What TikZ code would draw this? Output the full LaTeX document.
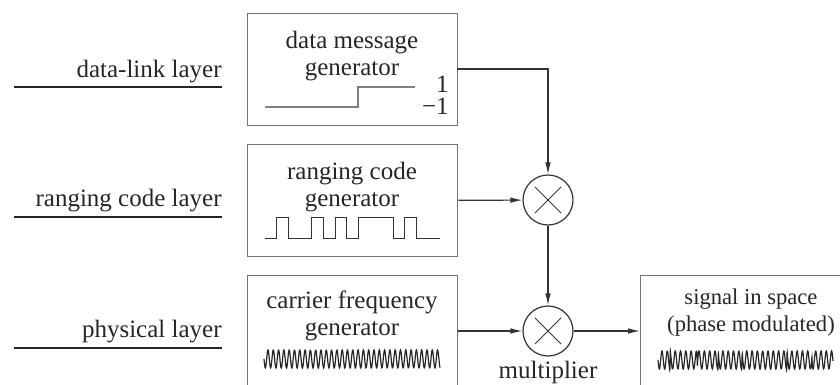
\documentclass[tikz,border=0pt]{standalone}
\usepackage{fontspec}
\setmainfont{Liberation Serif}
\usetikzlibrary{arrows.meta}

\tikzset{
  blk/.style={draw=black!55, line width=0.65pt, rectangle, inner sep=0pt, anchor=north west},
  txt/.style={align=center, inner sep=0pt, anchor=north, text=black!85},
  lbl/.style={inner sep=0pt, anchor=base east, text=black!85},
  mult/.style={draw=black!80, line width=0.6pt, circle, minimum size=25pt, inner sep=0pt,
    path picture={\draw[black!80, line width=0.5pt]
      ([shift={(-13,-13)}]path picture bounding box.center) -- ([shift={(13,13)}]path picture bounding box.center)
      ([shift={(-13,13)}]path picture bounding box.center) -- ([shift={(13,-13)}]path picture bounding box.center);}},
  arr/.style={draw=black!80, line width=0.6pt, -{Latex[length=6pt,width=2.8pt]}},
  sep/.style={draw=black!85, line width=0.6pt},
  wave/.style={draw=black!85, line width=0.6pt}
}

\begin{document}
\begin{tikzpicture}[x=0.5pt, y=-0.5pt, font=\fontsize{12.5}{13.5}\selectfont]
\clip (0,0) rectangle (840,385);

% layer names
\node[lbl] (dll) at (222,78) {data-link layer};
\node[lbl] (rcl) at (222,206) {ranging code layer};
\node[lbl] (phl) at (222,337) {physical layer};
\draw[sep] (14,87) -- (222,87);
\draw[sep] (14,217) -- (222,217);
\draw[sep] (14,348) -- (222,348);

% generators
\node[blk, minimum width=105pt, minimum height=56pt] (msgbox) at (247,13) {};
\node[txt] (msgtxt) at (352,31) {data message\\generator};
\node[blk, minimum width=105pt, minimum height=56pt] (rngbox) at (247,144) {};
\node[txt] (rngtxt) at (352,162) {ranging code\\generator};
\node[blk, minimum width=105pt, minimum height=60pt] (carbox) at (247,275) {};
\node[txt] (cartxt) at (352,290) {carrier frequency\\generator};
\node[blk, minimum width=105pt, minimum height=60pt] (sigbox) at (640,275) {};
\node[txt, font=\fontsize{11.3}{13.5}\selectfont] (sigtxt) at (751,288) {signal in space\\(phase modulated)};

% waveforms
\draw[black!50, line width=0.7pt] (265,107) -- (358,107) -- (358,87) -- (415,87);
\node[lbl] (one) at (449,93) {1};
\node[lbl] (mone) at (449,115) {−1};
\draw[black!80, line width=0.5pt] (265,238) -- (276.7,238) -- (276.7,217) -- (288.3,217) -- (288.3,238)
  -- (311.7,238) -- (311.7,217) -- (323.3,217) -- (323.3,238) -- (335,238) -- (335,217)
  -- (346.7,217) -- (346.7,238) -- (358.3,238) -- (358.3,217) -- (393.3,217) -- (393.3,238)
  -- (404,238) -- (404,217) -- (416.7,217) -- (416.7,238) -- (440,238);
\draw[wave] plot[domain=264:440, samples=500, smooth]
  (\x, {359+9*sin((\x-264)/5.3*360)});
\draw[wave] plot[domain=658:833, samples=500, smooth]
  (\x, {360+9*sin((\x-658)/5.3*360 + 180*((\x>670)+(\x>697)+(\x>718)+(\x>742)+(\x>787)+(\x>812)))});

% multipliers
\node[mult] (mul1) at (548,200) {};
\node[mult] (mul2) at (548,331) {};
\node[lbl, anchor=base] (multxt) at (548,378) {multiplier};

% connections
\coordinate (msgout) at (457,69);
\draw[arr] (msgout) -| (mul1);
\draw[arr] (rngbox) -- (mul1);
\draw[arr] (mul1) -- (mul2);
\draw[arr] (carbox.east |- mul2) -- (mul2);
\draw[arr] (mul2) -- (mul2 -| sigbox.west);
\end{tikzpicture}
\end{document}
